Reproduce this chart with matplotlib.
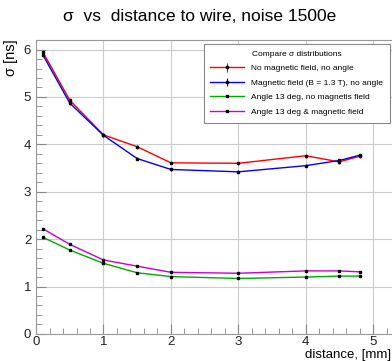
import numpy as np
import matplotlib.pyplot as plt
from matplotlib.ticker import MultipleLocator

# distance to wire [mm]
dist = [0.1, 0.5, 1.0, 1.5, 2.0, 3.0, 4.0, 4.5, 4.8]

sigma_nofield = [5.95, 4.93, 4.20, 3.95, 3.61, 3.60, 3.76, 3.63, 3.75]
sigma_field = [5.89, 4.87, 4.19, 3.70, 3.47, 3.42, 3.55, 3.66, 3.77]
sigma_angle = [2.04, 1.77, 1.49, 1.29, 1.21, 1.17, 1.20, 1.22, 1.22]
sigma_angle_field = [2.22, 1.89, 1.56, 1.43, 1.30, 1.28, 1.33, 1.33, 1.31]

err_nofield = [0.04, 0.04, 0.03, 0.04, 0.03, 0.03, 0.04, 0.04, 0.04]
err_field = [0.03, 0.03, 0.03, 0.03, 0.03, 0.03, 0.03, 0.03, 0.03]

labels = ["No magnetic field, no angle",
          "Magnetic field (B = 1.3 T), no angle",
          "Angle 13 deg, no magnetis field",
          "Angle 13 deg & magnetic field"]
colors = ["#ff0000", "#0000ff", "#00aa00", "#cc00cc"]

plt.rcParams['font.family'] = ['Liberation Sans', 'DejaVu Sans']

fig = plt.figure(figsize=(3.92, 3.61), dpi=100)
ax = fig.add_axes([0.092, 0.075, 0.908, 0.814])

series = [sigma_nofield, sigma_field, sigma_angle, sigma_angle_field]
errs = [err_nofield, err_field, None, None]
for y, e, c, lab in zip(series, errs, colors, labels):
    ax.errorbar(dist, y, yerr=e, color=c, lw=1, marker='s', ms=1.8,
                mfc='black', mec='black', ecolor=c, elinewidth=0.8,
                capsize=0, label=lab)

ax.set_xlim(0, 5.28)
ax.set_ylim(0, 6.2)
ax.xaxis.set_major_locator(MultipleLocator(1))
ax.xaxis.set_minor_locator(MultipleLocator(0.2))
ax.yaxis.set_major_locator(MultipleLocator(1))
ax.yaxis.set_minor_locator(MultipleLocator(0.2))
ax.tick_params(which='both', direction='in', color='#888888', labelsize=9.5,
               labelcolor='#222222', top=False, right=False)
ax.tick_params(axis='x', pad=1.5)
ax.tick_params(which='major', length=7)
ax.tick_params(which='minor', length=4)
ax.grid(True, which='major', color='#cccccc', lw=0.8)
for s in ax.spines.values():
    s.set_color('#999999')
ax.spines['right'].set_visible(False)

fig.text(0.51, 0.955, "σ  vs  distance to wire, noise 1500e",
         ha='center', va='center', fontsize=12.5)
fig.text(0.027, 0.89, "σ [ns]", rotation=90, ha='center', va='top',
         fontsize=10.5)
fig.text(0.998, 0.0, "distance, [mm]", ha='right', va='bottom',
         fontsize=9.5)

leg = ax.legend(loc='upper right', bbox_to_anchor=(1.005, 1.0),
                title="Compare σ distributions", title_fontsize=6,
                fontsize=6, fancybox=False, framealpha=1,
                edgecolor='#888888', borderpad=0.8, labelspacing=0.8,
                handlelength=4.0, handletextpad=0.9)
leg.get_frame().set_linewidth(0.8)

fig.savefig("out.png", dpi=100)
